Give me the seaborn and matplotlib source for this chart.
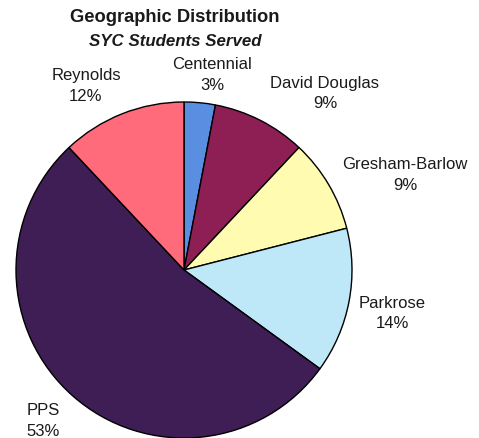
import matplotlib
matplotlib.use("Agg")
import matplotlib.pyplot as plt
import seaborn as sns

districts = ["Centennial", "David Douglas", "Gresham-Barlow", "Parkrose", "PPS", "Reynolds"]
shares = [3, 9, 9, 14, 53, 12]
colors = ["#5A8EE0", "#8E1F55", "#FFFBB0", "#BEE8F8", "#3F1D55", "#FF6B7B"]

# label centres in pixels (x, y from top)
label_pos = [(212, 75), (325, 93.5), (405, 175), (392, 313.5), (43, 421), (86, 86)]

sns.set_theme(style="white")
plt.rcParams['font.family'] = ['Liberation Sans', 'DejaVu Sans']

W, H = 479, 438
fig = plt.figure(figsize=(W / 100, H / 100), dpi=100)
fig.patch.set_facecolor("white")
ax = fig.add_axes([16 / W, 0 / H, 336 / W, 336 / H])
ax.pie(shares, colors=colors, startangle=90, counterclock=False,
       wedgeprops=dict(edgecolor="black", linewidth=1.0), radius=1.0)
ax.set_xlim(-1.0, 1.0)
ax.set_ylim(-1.0, 1.0)
ax.set_aspect("auto")
ax.axis("off")

for name, val, (px, py) in zip(districts, shares, label_pos):
    fig.text(px / W, 1 - py / H, f"{name}\n{val}%", ha="center", va="center",
             fontsize=12, color="#1a1a1a", linespacing=1.45)

fig.text(175 / W, 1 - 18 / H, "Geographic Distribution", ha="center", va="center",
         fontsize=13.2, fontweight="bold", color="#1a1a1a")
fig.text(175 / W, 1 - 42 / H, "SYC Students Served", ha="center", va="center",
         fontsize=12.2, fontweight="bold", fontstyle="italic", color="#1a1a1a")

fig.savefig("out.png", dpi=100, facecolor="white")
